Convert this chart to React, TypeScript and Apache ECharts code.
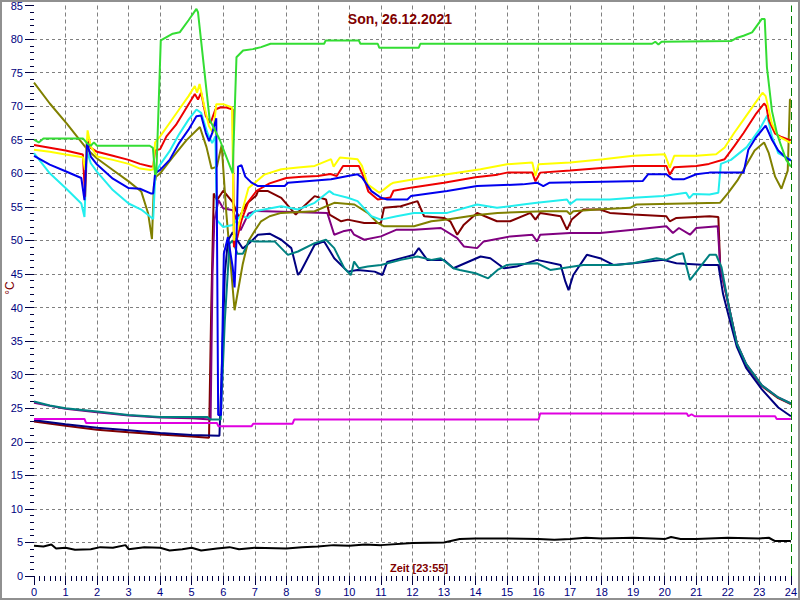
import React, { useEffect, useRef } from "react";
import * as echarts from "echarts";

const titleText = "Son, 26.12.2021";
const xName = "Zeit [23:55]";
const yName = "°C";

const xMin = 0, xMax = 24, xStep = 1;
const yMin = 0, yMax = 85, yStep = 5;

const greenS = [[0,65],[0.15,64.6],[0.3,65.2],[1.55,65.2],[1.7,64.4],[1.8,64.1],[1.9,64.6],[2.0,64.1],[3.67,64.1],[3.77,63.8],[3.84,59.8],[3.88,60],[4.02,79.8],[4.4,80.8],[4.62,81],[4.9,82.8],[5.15,84.5],[5.2,84],[5.57,68],[5.89,65],[6.3,60],[6.42,77.3],[6.63,78.3],[6.94,78.5],[7.2,78.8],[7.5,79.3],[9.2,79.3],[9.25,79.8],[10.3,79.8],[10.35,79.3],[10.9,79.3],[10.95,78.7],[12.2,78.7],[12.25,79.3],[19.6,79.3],[19.7,79.6],[19.8,79.2],[19.9,79.6],[22.1,79.7],[22.3,80.2],[22.5,80.5],[22.77,81],[23.08,83],[23.17,83],[23.24,75.8],[23.4,69.3],[23.56,65.9],[23.67,64.4],[23.85,62],[24,61]];

const yellowS = [[0,63.5],[0.5,63.2],[1,62.8],[1.55,62.4],[1.62,60.5],[1.7,66.4],[1.8,64],[2,62.5],[2.5,62],[3,61.4],[3.36,60.7],[3.7,60.5],[3.78,60.6],[3.84,64.6],[4.0,65.5],[4.3,67.5],[4.6,69.5],[4.9,71.5],[5.1,73],[5.17,72],[5.25,73.3],[5.4,70],[5.55,67],[5.68,66],[5.78,70.3],[6.0,70.3],[6.28,69.8],[6.34,50],[6.45,51.5],[6.58,54],[6.8,57.8],[7.06,58.8],[7.3,59.8],[7.84,60.6],[8.37,60.85],[8.9,61.1],[9.42,62.1],[9.5,61],[9.7,62.35],[10.26,62.1],[10.4,61.1],[10.58,58.35],[10.95,57.1],[11.1,57.6],[11.3,58.35],[11.4,58.6],[12.05,59.1],[13.1,59.85],[14.16,60.6],[15,61.35],[15.8,61.6],[15.9,59.6],[16,61.35],[17,61.6],[18.05,62.1],[19,62.6],[20,62.85],[20.16,60.85],[20.3,62.6],[21,62.6],[21.63,62.85],[21.9,63.85],[22.2,66],[22.5,68],[22.8,70],[23.1,72],[23.2,71.5],[23.4,67.4],[23.6,65.5],[23.8,65],[24,64.5]];

const redS = [[0,64.2],[0.5,63.8],[1,63.4],[1.55,62.8],[1.62,56.5],[1.68,65],[1.8,63.8],[2,63.2],[2.5,62.6],[3,62],[3.36,61.4],[3.7,61],[3.78,61],[3.84,63.4],[4.0,63.6],[4.2,65.5],[4.5,67.2],[4.8,69.5],[5.1,71.8],[5.2,71],[5.3,72],[5.45,68.5],[5.6,67.5],[5.75,69.5],[5.9,69.8],[6.1,69.8],[6.3,69.5],[6.34,49],[6.45,50.5],[6.58,53],[6.8,55.8],[7.06,57.4],[7.47,58.5],[8,59.3],[8.5,59.5],[9,59.6],[9.4,59.9],[9.6,59.6],[9.8,61.1],[10.3,61.1],[10.45,59.5],[10.6,57.3],[10.9,56.1],[11.3,56.4],[11.4,57.4],[12,57.9],[13,58.6],[14,59.4],[14.7,59.8],[15,60.1],[15.8,60.1],[15.9,58.8],[16.05,60.1],[17,60.4],[18,60.8],[19,61.1],[20.05,61.1],[20.16,59.8],[20.3,60.9],[21,61.1],[21.4,61.4],[21.9,62.1],[22.2,64],[22.5,66],[22.9,68.9],[23.15,70.4],[23.22,70],[23.3,67.9],[23.5,65.9],[23.7,65.4],[24,64.9]];

const cyanS = [[0,63],[0.5,60],[1,57.8],[1.5,55.5],[1.6,53.5],[1.68,63.3],[1.8,61.5],[2,60.2],[2.5,57.5],[3,55.5],[3.4,54.6],[3.78,53.2],[3.85,60],[4,61.3],[4.3,63.3],[4.6,65.8],[4.9,68],[5.15,69.5],[5.3,69],[5.5,66],[5.65,64.5],[5.75,65.5],[5.8,53],[6.0,52],[6.3,52.3],[6.55,53.7],[6.79,53.35],[7,54.35],[7.84,55.1],[8.37,54.6],[8.9,55.6],[9.37,57.35],[9.5,56.9],[9.95,56.35],[10.26,55.85],[10.7,53.6],[11,53.1],[11.5,53.6],[12.05,54.1],[13.1,54.1],[14.05,55.35],[14.68,54.85],[15.5,55.35],[15.95,55.6],[16.9,56.1],[17.0,55.4],[17.2,56.1],[18.26,56.1],[19,56.35],[19.95,56.6],[20.68,57.1],[20.78,56.3],[20.9,56.9],[21.42,56.85],[21.7,57.1],[21.78,61.4],[22.1,62],[22.6,63.9],[23,66.5],[23.25,68.6],[23.4,65.5],[23.6,63],[24,62]];

const blueS = [[0,62.6],[0.5,61.3],[1,60.3],[1.5,59.3],[1.6,56],[1.68,64.6],[1.8,62.5],[2,61.3],[2.5,59.2],[3,57.8],[3.36,57.7],[3.7,57],[3.78,57],[3.84,60],[4,60.5],[4.3,62],[4.6,64.5],[4.9,66.5],[5.15,68.5],[5.3,68.6],[5.45,66],[5.55,64.8],[5.65,66],[5.78,68.2],[5.84,24],[5.93,24],[6.02,48],[6.15,50.5],[6.3,46],[6.36,43],[6.42,50],[6.47,61],[6.58,61.2],[6.7,59.5],[6.9,58.6],[7.1,58.1],[7.95,58.1],[8.05,58.6],[9.42,59.1],[9.95,59.6],[10.26,59.85],[10.4,59.4],[10.7,57.35],[11,56.35],[11.2,56.1],[11.84,56.1],[11.95,56.6],[13.1,57.35],[14.05,58.1],[15.5,58.35],[15.95,58.6],[16.15,58.1],[16.35,58.6],[19.3,58.85],[19.47,59.85],[20.05,59.85],[20.26,59.1],[20.6,59.1],[21,59.85],[21.42,60.1],[22.5,60.1],[22.65,63.5],[22.9,65.4],[23.2,67.1],[23.4,65],[23.6,63.4],[23.8,62.5],[24,61.9]];

const oliveS = [[0,73.5],[0.5,70.4],[1.04,67.4],[1.46,64.9],[1.7,63.5],[2,62.2],[2.5,60.5],[3,58.8],[3.4,57.3],[3.62,54],[3.74,50.2],[3.8,58],[3.87,59.5],[4,60],[4.4,62.4],[4.83,64.9],[5.26,66.9],[5.47,63.9],[5.63,60.7],[5.8,61],[5.95,64.2],[6.1,54],[6.36,39.6],[6.62,46.5],[6.79,49.85],[7.05,51.8],[7.2,52.85],[7.47,53.6],[7.84,54.1],[8.9,54.35],[9.52,55.6],[10.16,55.35],[10.58,54.1],[10.9,52.6],[11.1,52.1],[12.05,52.1],[12.6,52.85],[13.1,53.1],[14.05,53.8],[14.7,54.1],[16.15,54.35],[16.9,54.35],[17.0,53.9],[17.1,54.35],[17.85,54.6],[18.9,54.85],[19.1,55.35],[21.75,55.6],[22.0,57],[22.3,58.9],[22.85,63.4],[23.15,64.6],[23.3,63],[23.5,59.5],[23.7,57.7],[23.9,60.4],[23.97,71],[24,71]];

const maroonS = [[0,23],[1,22.4],[2,21.8],[3,21.4],[4,21.1],[5,20.8],[5.55,20.6],[5.62,40],[5.7,57],[5.8,56],[6.0,57.4],[6.3,55.7],[6.5,53.4],[6.75,55.5],[7.05,56.7],[7.1,57.35],[7.42,57.35],[7.84,56.35],[8.3,53.85],[8.45,54.6],[8.9,56.6],[9.26,56.1],[9.37,53.85],[9.74,52.85],[9.95,53.1],[10.47,52.6],[11,52.6],[11.1,54.85],[11.63,55.1],[12.16,55.85],[12.37,53.6],[13,53.35],[13.2,52.85],[13.42,50.85],[13.63,52.35],[14.05,54.1],[14.3,53.6],[14.68,52.85],[15.1,52.85],[15.74,54.1],[15.9,53.1],[16.05,54.1],[16.7,53.6],[16.9,51.6],[17.05,53.1],[17.42,54.6],[17.95,54.6],[18.26,54.1],[19,53.85],[20.05,53.6],[20.16,52.85],[20.37,53.35],[21.42,53.6],[21.7,53.5],[21.76,46],[22.04,40],[22.29,34.5],[22.58,31.5],[23.08,28.3],[23.6,26.5],[24,25.6]];

const purpleS = [[0,25.8],[1,24.9],[2,24.4],[3,23.9],[4,23.6],[5,23.5],[5.6,23.3],[5.66,45],[5.72,53],[5.85,56],[6.0,54.8],[6.3,54.5],[6.55,51.5],[6.8,54],[7.05,54.4],[9.3,54.1],[9.52,50.85],[9.8,51.35],[10.05,51.6],[10.15,50.85],[10.47,50.1],[11,50.6],[11.5,51.6],[12.05,51.6],[12.9,51.85],[13.42,50.35],[13.63,49.1],[14.05,48.85],[14.26,49.85],[15.1,50.6],[15.8,50.85],[15.95,49.85],[16.05,50.85],[17,51.1],[17.95,51.1],[19,51.6],[20.05,52.1],[20.26,51.1],[20.45,51.85],[20.8,50.85],[21,51.85],[21.68,52.1],[21.76,46],[22.04,40],[22.29,34.6],[22.58,31.6],[23.08,28.4],[23.6,26.6],[24,25.7]];

const navyS = [[0,23.2],[0.5,22.9],[1,22.6],[2,22.1],[3,21.7],[4,21.3],[5,21],[5.88,20.9],[5.95,30],[6.05,45],[6.15,50],[6.3,51.2],[6.45,50],[6.62,48.8],[6.83,49.6],[7.1,50.85],[7.47,51],[7.84,50.1],[8.16,48.85],[8.37,44.85],[8.45,45.3],[8.9,49.35],[9.2,49.85],[9.52,47.35],[9.95,45.35],[10.26,45.6],[10.8,45.35],[11.05,44.85],[11.2,46.8],[12.05,47.85],[12.2,48.85],[12.47,47.1],[13,47.1],[13.3,45.85],[14.16,47.6],[14.47,47.35],[14.9,45.85],[15.3,46.1],[15.95,47.1],[16.7,46.35],[16.85,43.85],[16.95,42.6],[17.1,44.85],[17.53,47.85],[17.95,47.35],[18.37,46.35],[19,46.6],[19.95,47.1],[20.37,46.6],[21.3,46.35],[21.7,46.35],[21.85,42],[22.04,38.5],[22.29,34.1],[22.58,31],[23.08,27.8],[23.6,25.1],[24,23.8]];

const tealS = [[0,26],[0.5,25.4],[1,25],[2,24.5],[3,24],[4,23.7],[5,23.7],[5.5,23.7],[5.6,23.3],[5.92,23.3],[6.05,38],[6.2,49.5],[6.3,50],[6.45,48],[6.62,48],[6.83,50],[7,49.85],[7.63,49.85],[8.05,47.85],[8.37,48.35],[8.9,49.6],[9.26,50.1],[9.52,48.85],[9.84,45.85],[10.05,44.85],[10.15,46.85],[10.3,45.85],[10.58,46.1],[11,46.35],[11.63,47.1],[12.16,47.6],[12.6,47.1],[12.9,47.35],[13.3,45.85],[13.5,45.6],[14,45.1],[14.4,44.35],[14.7,45.6],[15,46.35],[15.95,46.6],[16.37,45.6],[17.42,46.35],[18.47,46.35],[19,46.6],[19.74,47.35],[20.05,47.1],[20.37,47.85],[20.58,48.1],[20.8,44.1],[21.05,45.6],[21.42,47.85],[21.63,47.85],[21.8,46],[22.04,40],[22.29,34.6],[22.58,31.6],[23.08,28.4],[23.6,26.6],[24,25.7]];

const magentaS = [[0,23.4],[1.6,23.4],[1.65,22.8],[5.8,22.8],[5.85,22.3],[6.9,22.3],[6.95,22.7],[8.2,22.7],[8.25,23.3],[16.0,23.3],[16.05,24.2],[20.7,24.2],[20.75,23.8],[20.85,24.1],[20.95,23.8],[23.5,23.8],[23.55,23.4],[24,23.4]];

const blackS = [[0,4.5],[0.3,4.4],[0.55,4.7],[0.7,4.1],[1,4.2],[1.3,3.9],[1.8,4.0],[2.1,4.3],[2.5,4.2],[2.9,4.6],[3.0,4.0],[3.5,4.3],[4.0,4.2],[4.3,3.8],[4.7,4.0],[5.0,4.2],[5.3,3.8],[5.8,4.1],[6.2,4.3],[6.5,4.0],[7,4.2],[8,4.1],[8.5,4.3],[9,4.4],[9.5,4.6],[10,4.5],[10.5,4.7],[11,4.6],[12,4.9],[13,5.0],[13.5,5.5],[14,5.6],[15,5.6],[16,5.5],[16.5,5.4],[17,5.5],[17.5,5.7],[18,5.6],[19,5.7],[20,5.5],[20.2,5.8],[20.5,5.5],[21,5.5],[22,5.7],[23,5.6],[23.3,5.7],[23.5,5.2],[24,5.2]];

const seriesList = [
  { name: "maroon", color: "#800000", data: maroonS },
  { name: "purple", color: "#800080", data: purpleS },
  { name: "olive", color: "#808000", data: oliveS },
  { name: "navy", color: "#000080", data: navyS },
  { name: "teal", color: "#008080", data: tealS },
  { name: "cyan", color: "#22eeee", data: cyanS },
  { name: "red", color: "#ee0000", data: redS },
  { name: "yellow", color: "#ffff00", data: yellowS },
  { name: "blue", color: "#0000ee", data: blueS },
  { name: "green", color: "#33dd33", data: greenS },
  { name: "magenta", color: "#e000e0", data: magentaS },
  { name: "black", color: "#000000", data: blackS },
];

const FONT = "'Liberation Sans', Arial, sans-serif";

export default function App() {
  const ref = useRef<HTMLDivElement>(null);
  useEffect(() => {
    if (!ref.current) return;
    const chart = echarts.init(ref.current, null, { renderer: "svg" });
    const series: any[] = seriesList.map((s, i) => ({
      name: s.name,
      type: "line",
      data: s.data,
      symbol: "none",
      showSymbol: false,
      lineStyle: { color: s.color, width: 2 },
      itemStyle: { color: s.color },
      z: 2 + i * 0.01,
      silent: true,
    }));
    series[0].markLine = {
      silent: true,
      symbol: "none",
      label: { show: false },
      lineStyle: { color: "#008000", type: [8, 4], width: 1 },
      data: [{ xAxis: xMax }],
    };
    chart.setOption({
      animation: false,
      backgroundColor: "#ffffff",
      title: {
        text: titleText,
        left: "center",
        top: 7,
        textStyle: { fontSize: 14, fontWeight: "bold", color: "#800000", fontFamily: FONT },
      },
      grid: { left: 34, right: 8, top: 5, bottom: 24, containLabel: false },
      xAxis: {
        type: "value",
        min: xMin,
        max: xMax,
        interval: xStep,
        axisLine: { show: false },
        axisTick: { show: true, length: 9, lineStyle: { color: "#000040" } },
        minorTick: { show: true, splitNumber: 6, length: 5, lineStyle: { color: "#000040" } },
        axisLabel: { color: "#000080", fontSize: 11, fontFamily: FONT, margin: 10 },
        splitLine: {
          show: true,
          showMinLine: false,
          showMaxLine: false,
          lineStyle: { color: "#808080", type: [4, 3], width: 1 },
        },
      },
      yAxis: {
        type: "value",
        min: yMin,
        max: yMax,
        interval: yStep,
        axisLine: { show: false },
        axisTick: { show: true, length: 9, lineStyle: { color: "#000040" } },
        minorTick: { show: true, splitNumber: 5, length: 4, lineStyle: { color: "#000040" } },
        axisLabel: { color: "#000080", fontSize: 11, fontFamily: FONT, margin: 11 },
        splitLine: {
          show: true,
          showMinLine: false,
          showMaxLine: false,
          lineStyle: { color: "#808080", type: [3, 3], width: 1 },
        },
      },
      graphic: [
        {
          type: "text",
          x: 419,
          y: 568,
          style: {
            text: xName,
            fill: "#800000",
            font: `bold 11px ${FONT}`,
            textAlign: "center",
            textVerticalAlign: "middle",
          },
        },
        {
          type: "text",
          x: 10,
          y: 288,
          rotation: Math.PI / 2,
          style: {
            text: yName,
            fill: "#800000",
            font: `12px ${FONT}`,
            textAlign: "center",
            textVerticalAlign: "middle",
          },
        },
        {
          type: "rect",
          shape: { x: 1, y: 1, width: 798, height: 598 },
          style: { fill: "none", stroke: "#909090", lineWidth: 2 },
          silent: true,
        },
      ],
      series,
    });
    return () => chart.dispose();
  }, []);
  return (
    <div
      ref={ref}
      style={{ position: "absolute", left: 0, top: 0, width: 800, height: 600, background: "#fff" }}
    />
  );
}
